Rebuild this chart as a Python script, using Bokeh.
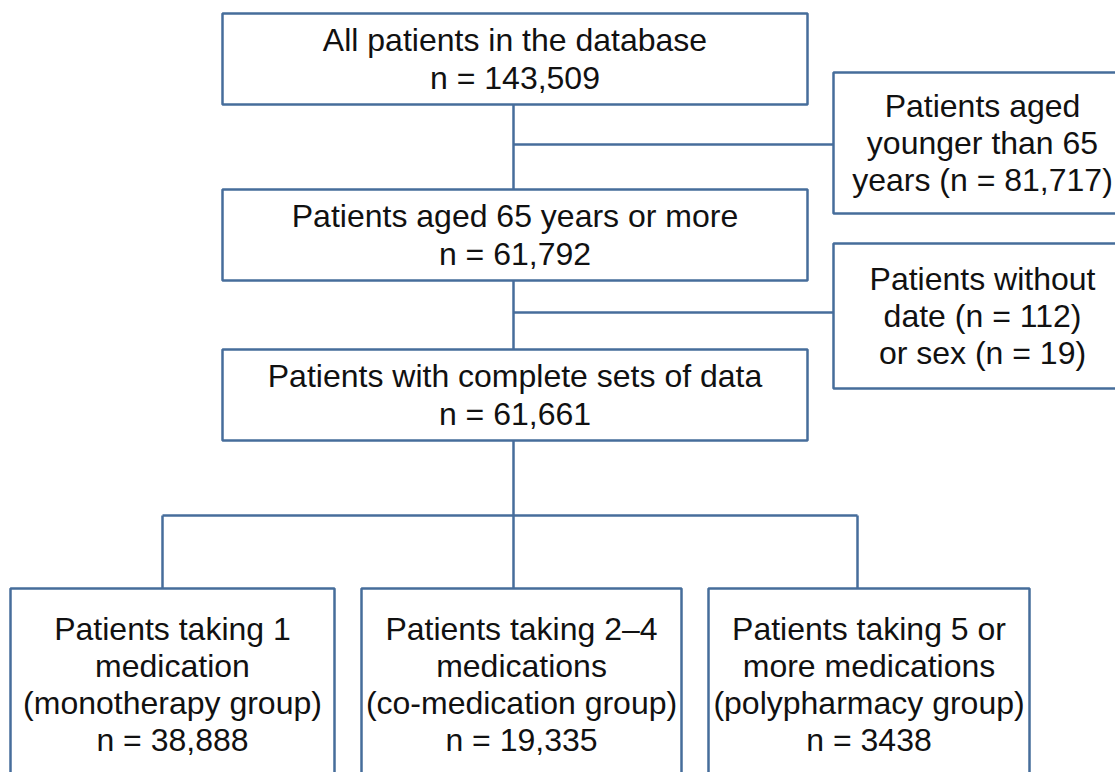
from bokeh.plotting import figure
from bokeh.models import Range1d, ColumnDataSource
from bokeh.core.properties import value
from bokeh.embed import file_html
from bokeh.resources import INLINE

# ---- content ----
main_labels = [
    "All patients in the database\nn = 143,509",
    "Patients aged 65 years or more\nn = 61,792",
    "Patients with complete sets of data\nn = 61,661",
]
excluded_labels = [
    "Patients aged\nyounger than 65\nyears (n = 81,717)",
    "Patients without\ndate (n = 112)\nor sex (n = 19)",
]
group_labels = [
    "Patients taking 1\nmedication\n(monotherapy group)\nn = 38,888",
    "Patients taking 2\u20134\nmedications\n(co-medication group)\nn = 19,335",
    "Patients taking 5 or\nmore medications\n(polypharmacy group)\nn = 3438",
]

# ---- layout (picture pixel coordinates, y downward) ----
main_left, main_right = 222, 807
main_tops = [13, 189, 349]
main_bottoms = [104, 280, 440]
spine_x = 513

exc_left, exc_right = 833, 1130
exc_tops = [72, 243]
exc_bottoms = [213, 388]
exc_text_x = 982
branch_y = [144, 312]

grp_lefts = [10, 361, 708]
grp_rights = [334, 681, 1029]
grp_top, grp_bottom = 588, 800
grp_text_y = 684
drop_x = [162, 513, 857]
split_y = 515

COLOR = "#466d9b"
LW = 2.5
FONT = value("Liberation Sans")

W, H = 1115, 772
p = figure(width=W, height=H, output_backend="svg", toolbar_location=None,
           x_range=Range1d(0, W), y_range=Range1d(H, 0),
           min_border=0, outline_line_color=None, background_fill_color="white")
p.axis.visible = False
p.grid.visible = False

# boxes
box_src = ColumnDataSource(dict(
    left=[main_left] * 3 + [exc_left] * 2 + grp_lefts,
    right=[main_right] * 3 + [exc_right] * 2 + grp_rights,
    top=main_tops + exc_tops + [grp_top] * 3,
    bottom=main_bottoms + exc_bottoms + [grp_bottom] * 3,
))
p.quad(left="left", right="right", top="top", bottom="bottom", source=box_src,
       fill_color=None, line_color=COLOR, line_width=LW)

# connectors
xs, ys = [], []
for i in range(2):
    xs.append([spine_x, spine_x]); ys.append([main_bottoms[i], main_tops[i + 1]])
    xs.append([spine_x, exc_left]); ys.append([branch_y[i], branch_y[i]])
xs.append([spine_x, spine_x]); ys.append([main_bottoms[2], split_y])
xs.append([drop_x[0], drop_x[-1]]); ys.append([split_y, split_y])
for dx in drop_x:
    xs.append([dx, dx]); ys.append([split_y, grp_top])
p.multi_line(xs=xs, ys=ys, line_color=COLOR, line_width=LW)

# texts
txt_src = ColumnDataSource(dict(
    x=[(main_left + main_right) / 2] * 3 + [exc_text_x] * 2
      + [(l + r) / 2 for l, r in zip(grp_lefts, grp_rights)],
    y=[(t + b) / 2 for t, b in zip(main_tops, main_bottoms)]
      + [(t + b) / 2 for t, b in zip(exc_tops, exc_bottoms)]
      + [grp_text_y] * 3,
    text=main_labels + excluded_labels + group_labels,
))
p.text(x="x", y="y", text="text", source=txt_src, text_align="center",
       text_baseline="middle", text_font=FONT, text_font_size="32px",
       text_line_height=1.03, text_color="#111111")

open("out.html", "w").write(file_html(p, INLINE))
